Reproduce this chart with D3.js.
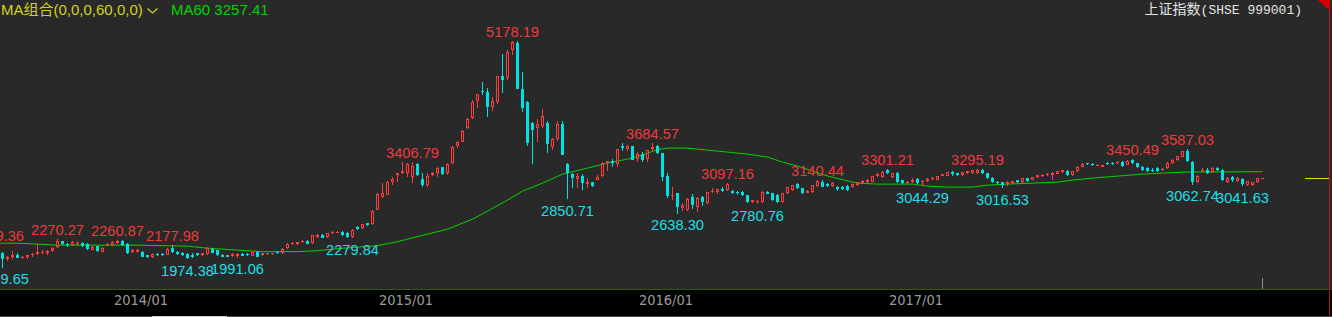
<!DOCTYPE html>
<html lang="zh-CN">
<head>
<meta charset="UTF-8" />
<title>上证指数 周K线</title>
<script src="https://cdn.jsdelivr.net/npm/d3@7"></script>
<style>
  html, body { margin: 0; padding: 0; background: #292929; overflow: hidden; }
  svg { display: block; }
  .mark { font-family: "Liberation Sans", Arial, sans-serif; font-size: 14.6px; }
  .legend { font-family: "Liberation Sans", "Noto Sans CJK SC", sans-serif; font-size: 15px; }
  .title-cjk { font-family: "Noto Sans CJK SC", sans-serif; font-size: 14px; }
  .title-mono { font-family: "Liberation Mono", "DejaVu Sans Mono", monospace; font-size: 13px; }
  .x-axis text { font-family: "Liberation Sans Narrow", "DejaVu Sans Condensed", sans-serif; font-size: 14.5px; fill: #9a9a9a; }
</style>
</head>
<body>
<div id="chart"></div>
<script>
// weekly candles, one entry per week (mid 2013 .. mid 2018)
const opens = [2160,2068,1976,2003,2040,1992,2010,2029,2049,2062,2060,2098,2150,2236,2200,2180,2190,2215,2200,2110,2160,2085,2175,2180,2205,2240,2200,2075,2085,2080,
  2030,2006,2055,2050,2040,2140,2085,2060,2050,2040,2060,2035,2050,2115,2100,2030,2030,2015,2020,2050,2050,2025,2080,2030,2045,2050,2075,2058,2130,2195,
  2195,2225,2240,2205,2305,2325,2296,2355,2360,2370,2355,2300,2440,2430,2500,2487,2700,2890,2915,3112,3208,3241,3233,3174,3370,3144,3060,3208,3242,3320,
  3233,3380,3630,3700,3899,4046,4290,4450,4430,4207,4283,4660,4633,5049,5150,4470,4280,3975,3900,3935,3972,3625,3745,3960,3373,3224,3150,3195,3080,3100,
  3143,3200,3380,3420,3370,3632,3590,3640,3440,3520,3440,3586,3630,3536,3190,2900,2938,2730,2700,2880,2740,2880,2800,2960,2960,3010,2987,2972,2960,2962,
  2913,2815,2820,2815,2955,2938,2913,2815,2940,2990,3075,3016,2950,2960,3050,3110,3080,3050,3030,3030,3045,3030,3060,3095,3100,3110,3195,3180,3290,3180,
  3233,3130,3090,3100,3150,3100,3125,3150,3140,3200,3195,3250,3232,3210,3240,3235,3240,3290,3232,3170,3110,3100,3070,3090,3130,3100,3160,3140,3180,3190,
  3205,3215,3230,3250,3270,3215,3270,3330,3380,3378,3345,3330,3389,3390,3380,3404,3360,3435,3379,3330,3305,3290,3305,3283,3310,3380,3430,3480,3563,3404,
  3110,3270,3290,3255,3306,3290,3110,3180,3120,3150,3060,3065,3100,3160];
const highs = [2179.36,2075,2017,2092,2062,2023,2034,2060,2198,2100,2110,2150,2270.27,2243,2215,2240,2242,2230,2210,2160,2170,2150,2210,2235,2260.87,2250,2210,2120,2120,2090,
  2040,2060,2065,2060,2135,2177.98,2095,2075,2060,2060,2070,2070,2150,2130,2110,2045,2040,2060,2060,2060,2060,2085,2090,2070,2065,2065,2085,2135,2210,2220,
  2230,2250,2250,2330,2345,2340,2360,2380,2385,2390,2370,2420,2460,2490,2510,2690,2950,3090,3115,3173,3240,3400,3390,3406.79,3384,3242,3233,3250,3330,3330,
  3384,3632,3716,3866,4040,4306,4400,4572,4488,4350,4658,4986,5051,5178.19,5176,4720,4297,3990,4030,4184,4000,3749,4000,4006,3388,3240,3243,3220,3160,3100,
  3211,3394,3417,3450,3590,3678,3654,3640,3550,3540,3580,3684.57,3650,3538,3235,3036,2940,2800,2870,2934,2880,2900,2960,3018,3010,3030,3097.16,2990,2975,2975,
  2920,2845,2845,2970,2970,2950,2925,2945,3035,3065,3090,3025,2990,3065,3140.44,3130,3095,3100,3050,3045,3060,3090,3110,3130,3150,3200,3240,3270,3301.21,3240,
  3250,3140,3120,3160,3170,3130,3160,3180,3200,3225,3260,3265,3245,3260,3275,3285,3295.19,3294,3240,3180,3120,3105,3115,3125,3140,3165,3170,3185,3215,3225,
  3240,3250,3270,3290,3280,3275,3335,3380,3390,3390,3372,3360,3400,3400,3420,3420,3430,3450.49,3390,3340,3320,3305,3320,3310,3400,3440,3495,3565,3587.03,3420,
  3210,3310,3310,3320,3325,3300,3175,3190,3180,3170,3125,3110,3170,3170];
const lows = [2065,1849.65,1942,1980,1990,1968,1975,2010,2040,2050,2040,2085,2140,2180,2150,2165,2180,2150,2110,2100,2085,2075,2165,2170,2195,2170,2045,2060,2075,2000,
  1985,1995,2025,2020,2035,2070,2035,2020,1974.38,1990,2025,2025,2040,2060,2025,2000,2000,2005,1991.06,2015,2025,2015,2000,2020,2035,2040,2050,2050,2125,2180,
  2185,2215,2190,2200,2290,2280,2290,2345,2350,2320,2290,2279.84,2400,2410,2460,2480,2690,2870,2910,3060,3110,3230,3183,3085,3190,3036,3040,3200,3183,3215,
  3208,3375,3600,3690,3880,4030,4197,4384,4060,4150,4250,4420,4600,4972,4476,4139,3629,3373.54,3700,3900,3537,3574,3712,3496,2850.71,3011,3011,2983,3012,3031,
  3143,3180,3266,3320,3321,3560,3560,3430,3400,3402,3400,3560,3524,3115,2867,2840,2638.30,2682,2682,2716,2661,2760,2780,2940,2930,2960,2975,2930,2920,2900,
  2800,2795,2780.76,2805,2925,2830,2800,2805,2930,2980,3010,2935,2940,2950,3040,3030,3040,3040,2980,2990,2980,3020,3050,3080,3090,3100,3180,3170,3220,3170,
  3090,3070,3070,3090,3080,3044.29,3110,3130,3130,3190,3190,3200,3200,3200,3230,3220,3230,3230,3150,3085,3080,3016.53,3050,3080,3090,3090,3110,3130,3170,3180,
  3195,3135,3220,3240,3200,3200,3260,3320,3350,3340,3335,3320,3360,3360,3370,3330,3350,3370,3310,3270,3250,3255,3250,3270,3300,3370,3420,3470,3400,3062.74,
  3090,3250,3230,3240,3270,3120,3090,3100,3100,3041.63,3045,3050,3090,3155];
const closes = [2073,1979,2007,2039,1992,2010,2029,2052,2085,2075,2098,2139,2236,2191,2174,2228,2215,2160,2120,2150,2095,2140,2200,2225,2245,2180,2060,2110,2112,2010,
  2002,2052,2033,2035,2125,2080,2045,2030,1990,2010,2040,2065,2140,2070,2035,2008,2010,2050,2052,2025,2032,2075,2010,2065,2060,2060,2058,2126,2200,2210,
  2220,2240,2195,2325,2325,2290,2355,2365,2370,2330,2300,2400,2420,2485,2475,2682,2937,2940,3105,3144,3233,3270,3370,3340,3208,3060,3193,3242,3306,3222,
  3370,3617,3691,3863,4034,4287,4393,4441,4205,4300,4657,4611,5023,5166,4478,4192,3686,3877,3957,4070,3663,3744,3965,3508,3232,3160,3200,3097,3100,3053,
  3183,3391,3412,3383,3590,3600,3630,3436,3524,3435,3579,3627,3539,3186,2901,2916,2737,2763,2860,2767,2874,2810,2955,2979,3009,2977,3080,2940,2938,2913,
  2815,2838,2830,2962,2935,2845,2815,2938,3030,3058,3016,2945,2980,3058,3120,3040,3050,3092,3002,3004,2990,3080,3105,3122,3140,3192,3230,3255,3235,3232,
  3100,3090,3103,3140,3095,3123,3150,3170,3192,3220,3250,3218,3212,3250,3266,3280,3286,3240,3160,3110,3095,3060,3100,3120,3105,3158,3123,3180,3208,3215,
  3230,3245,3262,3280,3210,3268,3331,3367,3365,3355,3360,3350,3368,3370,3404,3345,3418,3380,3330,3285,3262,3266,3262,3297,3391,3428,3487,3558,3410,3110,
  3199,3289,3245,3307,3282,3134,3168,3131,3159,3071,3115,3105,3160,3163];

// weeks whose high / low carries a price tag
const peakIdx = [0, 12, 24, 35, 83, 103, 131, 146, 164, 178, 196, 227, 238];
const troughIdx = [1, 38, 48, 71, 114, 136, 152, 185, 201, 239, 249];

// MA60 at these weeks
const maIdx = [0, 4, 12, 28, 38, 42, 48, 53, 60, 64, 68, 76, 80, 82, 86, 90, 95, 98, 102, 105, 109, 113, 118, 122, 126, 129, 132, 134,
  138, 142, 146, 150, 154, 157, 160, 163, 166, 169, 172, 176, 183, 186, 190, 195, 198, 202, 207, 212, 215, 219, 224, 229, 233, 237, 253];
const maVal = [2207.6, 2207.6, 2178.2, 2178.2, 2163.5, 2134.1, 2104.7, 2082.6, 2082.6, 2097.3, 2126.7, 2170.8, 2229.7, 2266.5, 2340.0, 2413.6,
  2560.6, 2678.3, 2840.0, 2972.4, 3090.1, 3222.5, 3310.7, 3384.3, 3443.0, 3501.9, 3582.7, 3604.8, 3604.8, 3575.4, 3545.9, 3516.5, 3472.4,
  3398.9, 3340.0, 3266.5, 3193.0, 3141.5, 3090.1, 3075.4, 3075.4, 3046.0, 3031.3, 3031.3, 3060.7, 3075.4, 3090.1, 3104.8, 3134.2, 3163.6,
  3193.0, 3222.5, 3237.2, 3251.9, 3257.41];
const maLast = 3257.41;

const tickIdx = [28, 81, 133, 183];
const tickText = ["2014/01", "2015/01", "2016/01", "2017/01"];

const width = 1332;
const height = 317;
const plotBottom = 289;

const red = "#ff3c3c";
const cyan = "#00e2e2";
const redText = "#ec3b3b";
const cyanText = "#1fdfe6";

const n = closes.length;

const svg = d3.select("#chart")
  .append("svg")
  .attr("width", width)
  .attr("height", height);

svg.append("rect").attr("width", width).attr("height", height).attr("fill", "#292929");

const x = d3.scaleBand()
  .domain(d3.range(n))
  .range([-5, -5 + 5 * n]);

const y = d3.scaleLinear()
  .domain([1534, 5781])
  .range([plotBottom, 0]);

// MA60 line
const maLine = d3.line()
  .x((d, k) => x(maIdx[k]) + 2.5)
  .y(d => y(d));

svg.append("path")
  .datum(maVal)
  .attr("d", maLine)
  .attr("fill", "none")
  .attr("stroke", "#00d400")
  .attr("stroke-width", 1);

// candles
const candles = svg.append("g")
  .attr("shape-rendering", "crispEdges")
  .selectAll("g")
  .data(d3.range(n))
  .join("g");

candles.each(function(i) {
  const g = d3.select(this);
  const o = opens[i], c = closes[i];
  const up = c >= o;
  const col = up ? red : cyan;
  const cx = x(i) + 2.5;
  const yt = Math.round(y(Math.max(o, c)));
  const yb = Math.round(y(Math.min(o, c)));
  const yh = Math.round(y(highs[i]));
  const yl = Math.round(y(lows[i]));

  if (!up || yb - yt <= 2) {
    g.append("line")
      .attr("x1", cx).attr("x2", cx)
      .attr("y1", yh).attr("y2", yl)
      .attr("stroke", col);
    g.append("rect")
      .attr("x", x(i) + 1)
      .attr("y", yt)
      .attr("width", 3)
      .attr("height", Math.max(1, yb - yt))
      .attr("fill", col);
  } else {
    g.append("line")
      .attr("x1", cx).attr("x2", cx)
      .attr("y1", yh).attr("y2", yt)
      .attr("stroke", col);
    g.append("line")
      .attr("x1", cx).attr("x2", cx)
      .attr("y1", yb).attr("y2", yl)
      .attr("stroke", col);
    g.append("rect")
      .attr("x", x(i) + 1.5)
      .attr("y", yt + 0.5)
      .attr("width", 2)
      .attr("height", yb - yt - 1)
      .attr("fill", "none")
      .attr("stroke", col);
  }
});

// price tags
svg.append("g")
  .selectAll("text")
  .data(peakIdx)
  .join("text")
  .attr("class", "mark")
  .attr("x", i => x(i) + 2.5)
  .attr("y", i => y(highs[i]) - 4)
  .attr("text-anchor", "middle")
  .attr("fill", redText)
  .text(i => highs[i].toFixed(2));

svg.append("g")
  .selectAll("text")
  .data(troughIdx)
  .join("text")
  .attr("class", "mark")
  .attr("x", i => x(i) + 2.5)
  .attr("y", i => y(lows[i]) + 16.5)
  .attr("text-anchor", "middle")
  .attr("fill", cyanText)
  .text(i => lows[i].toFixed(2));

// last close marker on the right edge
const lastY = Math.round(y(closes[n - 1])) + 0.5;
svg.append("line")
  .attr("x1", 1305).attr("x2", 1329)
  .attr("y1", lastY).attr("y2", lastY)
  .attr("stroke", "#e0e000");

svg.append("line")
  .attr("x1", x(n - 1) + 2.5).attr("x2", x(n - 1) + 2.5)
  .attr("y1", 278).attr("y2", plotBottom)
  .attr("stroke", "#8a8a8a");

// time axis band
svg.append("rect")
  .attr("x", 0).attr("y", plotBottom + 1)
  .attr("width", width).attr("height", 26)
  .attr("fill", "#000");

svg.append("line")
  .attr("x1", 0).attr("x2", 1330)
  .attr("y1", plotBottom + 0.5).attr("y2", plotBottom + 0.5)
  .attr("stroke", "#b01414");

const xAxis = d3.axisBottom(x)
  .tickValues(tickIdx)
  .tickFormat(i => tickText[tickIdx.indexOf(i)])
  .tickSize(0)
  .tickPadding(0);

svg.append("g")
  .attr("class", "x-axis")
  .attr("transform", `translate(3.5, ${plotBottom + 6})`)
  .call(xAxis)
  .call(g => g.select(".domain").remove());

// scrollbar strip at the very bottom
svg.append("rect").attr("x", 0).attr("y", 316).attr("width", width).attr("height", 1).attr("fill", "#4a4a4a");
svg.append("rect").attr("x", 152).attr("y", 316).attr("width", 75).attr("height", 1).attr("fill", "#cfcfcf");

// right border and corner flag
svg.append("line")
  .attr("x1", 1329.5).attr("x2", 1329.5)
  .attr("y1", 0).attr("y2", 316)
  .attr("stroke", "#b01414");
svg.append("path")
  .attr("d", "M1318,0 L1330,0 L1330,11 Z")
  .attr("fill", "#d40000");

// legend
const legend = svg.append("g").attr("class", "legend");
legend.append("text")
  .attr("x", 1).attr("y", 15)
  .attr("fill", "#d2d21e")
  .text("MA组合(0,0,0,60,0,0)");
legend.append("path")
  .attr("d", "M147.5,8.5 L152.5,13 L157.5,8.5")
  .attr("fill", "none")
  .attr("stroke", "#d2d21e")
  .attr("stroke-width", 1.2);
legend.append("text")
  .attr("x", 171).attr("y", 15)
  .attr("fill", "#00d400")
  .text("MA60 " + maLast.toFixed(2));

// instrument name
const title = svg.append("text")
  .attr("x", 1302).attr("y", 14)
  .attr("text-anchor", "end")
  .attr("fill", "#e4e4e4");
title.append("tspan").attr("class", "title-cjk").text("上证指数");
title.append("tspan").attr("class", "title-mono").text("(SHSE 999001)");
</script>
</body>
</html>
